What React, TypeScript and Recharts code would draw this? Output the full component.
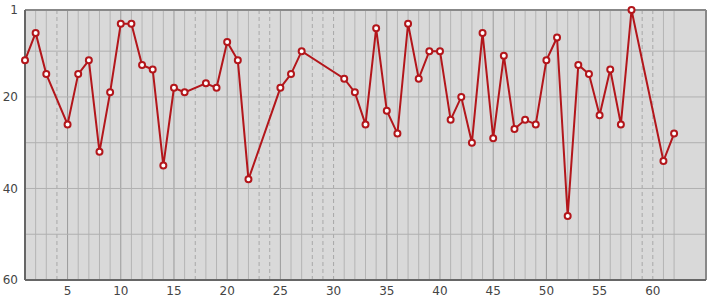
import { LineChart, Line, XAxis, YAxis, ReferenceLine, ReferenceArea } from 'recharts';

// positions along x where a reading exists, and the rank at each
const days = [
  1, 2, 3, 5, 6, 7, 8, 9, 10, 11, 12, 13, 14, 15, 16, 18, 19, 20, 21, 22,
  25, 26, 27, 31, 32, 33, 34, 35, 36, 37, 38, 39, 40, 41, 42, 43, 44, 45,
  46, 47, 48, 49, 50, 51, 52, 53, 54, 55, 56, 57, 58, 61, 62,
];
const ranks = [
  12, 6, 15, 26, 15, 12, 32, 19, 4, 4, 13, 14, 35, 18, 19, 17, 18, 8, 12, 38,
  18, 15, 10, 16, 19, 26, 5, 23, 28, 4, 16, 10, 10, 25, 20, 30, 6, 29,
  11, 27, 25, 26, 12, 7, 46, 13, 15, 24, 14, 26, 1, 34, 28,
];

const xTicks = [5, 10, 15, 20, 25, 30, 35, 40, 45, 50, 55, 60];
const yTicks = [1, 20, 40, 60];
const yGrid = [10, 20, 30, 40, 50];
const xGrid = Array.from({ length: 62 }, (_, i) => i + 1);

const data = days.map((d, i) => ({ x: d, y: ranks[i] }));

const RED = '#b3161b';

export default function App() {
  return (
    <div style={{ position: 'absolute', left: 0, top: 0, fontFamily: '"DejaVu Sans", sans-serif' }}>
      <LineChart width={715} height={300} data={data} margin={{ top: 10, right: 9, bottom: 0, left: 0 }}>
        <XAxis
          dataKey="x"
          type="number"
          domain={[1, 65]}
          ticks={xTicks}
          axisLine={false}
          tickLine={false}
          tickSize={0}
          tickMargin={6}
          height={20}
          tick={{ fontSize: 12, fill: '#444' }}
        />
        <YAxis
          type="number"
          reversed
          domain={[1, 60]}
          ticks={yTicks}
          axisLine={false}
          tickLine={false}
          tickSize={0}
          tickMargin={7}
          width={25}
          tick={{ fontSize: 12, fill: '#444' }}
        />
        <ReferenceArea x1={1} x2={65} y1={1} y2={60} fill="#d9d9d9" fillOpacity={1} stroke="none" />
        {xGrid.map((v) => {
          const missing = !days.includes(v);
          return (
            <ReferenceLine
              key={'x' + v}
              x={v}
              stroke={missing ? '#a8a8a8' : v % 5 === 0 ? '#9a9a9a' : '#b4b4b4'}
              strokeDasharray={missing ? '4 3' : undefined}
              strokeWidth={1}
            />
          );
        })}
        {yGrid.map((v) => (
          <ReferenceLine key={'y' + v} y={v} stroke="#b0b0b0" strokeWidth={1} />
        ))}
        <ReferenceLine y={1} stroke="#888" strokeWidth={2} />
        <ReferenceLine x={65} stroke="#888" strokeWidth={2} />
        <ReferenceLine x={1} stroke="#666" strokeWidth={2} />
        <ReferenceLine y={60} stroke="#666" strokeWidth={2} />
        <Line
          type="linear"
          dataKey="y"
          stroke={RED}
          strokeWidth={2}
          dot={{ r: 3, fill: '#fff', stroke: RED, strokeWidth: 2 }}
          isAnimationActive={false}
        />
      </LineChart>
    </div>
  );
}
